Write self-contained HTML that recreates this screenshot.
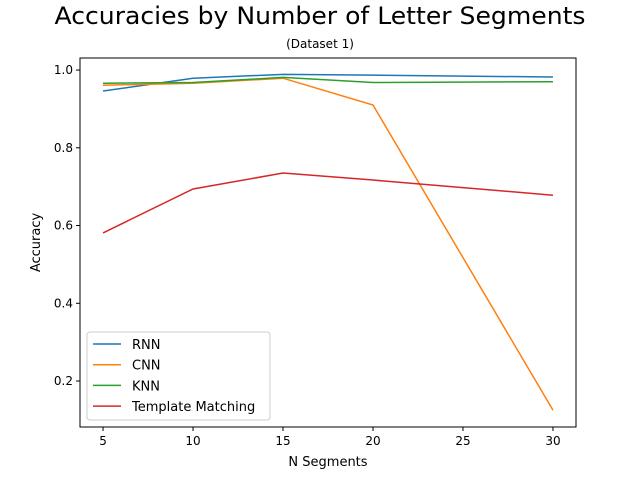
<!DOCTYPE html>
<html><head><meta charset="utf-8"><style>
body{margin:0;background:#fff;}
svg{display:block;font-family:"DejaVu Sans","Liberation Sans",sans-serif;}
</style></head><body>
<svg id="chart" width="640" height="480">
<text x="320" y="24" text-anchor="middle" font-size="24" textLength="531" lengthAdjust="spacingAndGlyphs">Accuracies by Number of Letter Segments</text>
<text x="320" y="48" text-anchor="middle" font-size="12">(Dataset 1)</text>
<g id="plot"></g>
</svg>
<script>
const categories=[5,10,15,20,30];
const seriesNames=["RNN","CNN","KNN","Template Matching"];
const rnn=[0.946,0.979,0.989,0.987,0.982];
const cnn=[0.961,0.966,0.979,0.910,0.125];
const knn=[0.966,0.968,0.981,0.968,0.970];
const tm=[0.581,0.694,0.735,0.717,0.678];
const xTicks=[5,10,15,20,25,30];
const yTicks=[0.2,0.4,0.6,0.8,1.0];
const colors=["#1f77b4","#ff7f0e","#2ca02c","#d62728"];
const L=80,R=576,T=58,B=427;
const xMin=3.72,xMax=31.28,yMin=0.0817,yMax=1.031;
const xs=v=>L+(v-xMin)/(xMax-xMin)*(R-L);
const ys=v=>B-(v-yMin)/(yMax-yMin)*(B-T);
const NS="http://www.w3.org/2000/svg";
const g=document.getElementById('plot');
function mk(t,a){const e=document.createElementNS(NS,t);for(const k in a)e.setAttribute(k,a[k]);g.appendChild(e);return e;}
const all=[rnn,cnn,knn,tm];
all.forEach((s,i)=>{
 const p=mk('polyline',{points:s.map((v,j)=>xs(categories[j])+','+ys(v)).join(' '),fill:'none',stroke:colors[i],'stroke-width':1.5});
 
 
});
const frame=mk('rect',{x:L,y:T,width:R-L,height:B-T,fill:'none',stroke:'#000','stroke-width':1});


xTicks.forEach(t=>{
 mk('line',{x1:xs(t),x2:xs(t),y1:B,y2:B+4,stroke:'#000'});
 const tx=mk('text',{x:xs(t),y:B+18,'text-anchor':'middle','font-size':12});
 tx.textContent=t;
 
 
});
yTicks.forEach(t=>{
 mk('line',{x1:L-4,x2:L,y1:ys(t),y2:ys(t),stroke:'#000'});
 const tx=mk('text',{x:L-7,y:ys(t)+4,'text-anchor':'end','font-size':12});
 tx.textContent=t.toFixed(1);
 
 
});
const xl=mk('text',{x:(L+R)/2,y:466,'text-anchor':'middle','font-size':13});
xl.textContent='N Segments';


const yl=mk('text',{x:0,y:0,'text-anchor':'middle','font-size':13,transform:`translate(40,${(T+B)/2}) rotate(-90)`});
yl.textContent='Accuracy';


const lg=mk('rect',{x:87,y:332,width:183,height:88,rx:3,fill:'#fff','fill-opacity':0.8,stroke:'#ccc'});


seriesNames.forEach((n,i)=>{
 const y=344+i*20.7;
 mk('line',{x1:93,x2:121,y1:y,y2:y,stroke:colors[i],'stroke-width':1.5});
 const tx=mk('text',{x:132,y:y+5,'font-size':13});
 tx.textContent=n;
 
 
});
</script>
</body></html>
